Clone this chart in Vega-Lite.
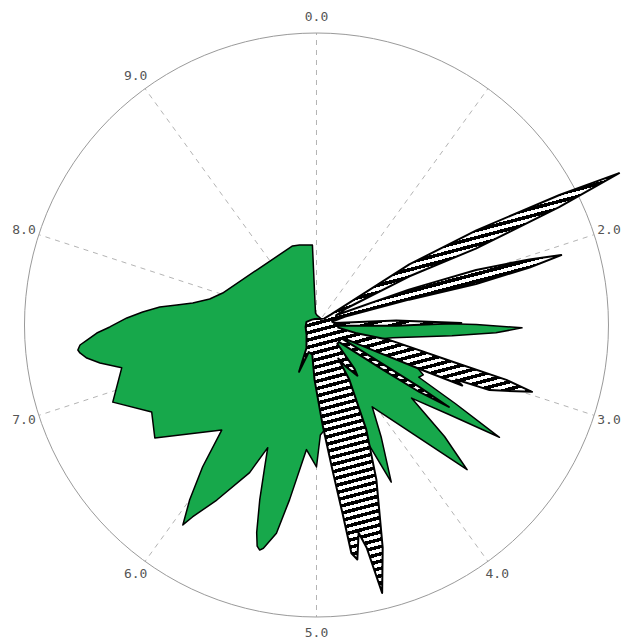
{
  "$schema": "https://vega.github.io/schema/vega-lite/v6.json",
  "width": 621,
  "height": 643,
  "autosize": {"type": "fit", "contains": "padding"},
  "padding": 0,
  "background": "white",
  "config": {"view": {"stroke": null}},
  "datasets": {
    "spokes": [
      {"a": 0, "r": 100}, {"a": 1, "r": 100}, {"a": 2, "r": 100}, {"a": 3, "r": 100}, {"a": 4, "r": 100},
      {"a": 5, "r": 100}, {"a": 6, "r": 100}, {"a": 7, "r": 100}, {"a": 8, "r": 100}, {"a": 9, "r": 100}
    ],
    "labels": [
      {"a": 0, "r": 105.5, "t": "0.0"}, {"a": 2, "r": 105.5, "t": "2.0"}, {"a": 3, "r": 105.5, "t": "3.0"},
      {"a": 4, "r": 105.5, "t": "4.0"}, {"a": 5, "r": 105.5, "t": "5.0"}, {"a": 6, "r": 105.5, "t": "6.0"},
      {"a": 7, "r": 105.5, "t": "7.0"}, {"a": 8, "r": 105.5, "t": "8.0"}, {"a": 9, "r": 105.5, "t": "9.0"}
    ],
    "green": [
      {"a": 0.056, "r": 3.4}, {"a": 1.111, "r": 2.7}, {"a": 1.778, "r": 3.4}, {"a": 1.958, "r": 15.4},
      {"a": 2.056, "r": 4.1}, {"a": 2.333, "r": 6.2}, {"a": 2.456, "r": 30.8}, {"a": 2.494, "r": 54.8},
      {"a": 2.522, "r": 70.5}, {"a": 2.569, "r": 61.6}, {"a": 2.625, "r": 46.6}, {"a": 2.764, "r": 26.4},
      {"a": 2.889, "r": 20.5}, {"a": 3.056, "r": 34.2}, {"a": 3.194, "r": 40.4}, {"a": 3.25, "r": 39.4},
      {"a": 3.319, "r": 54.8}, {"a": 3.375, "r": 73.6}, {"a": 3.444, "r": 54.8}, {"a": 3.542, "r": 41.1},
      {"a": 3.639, "r": 58.2}, {"a": 3.717, "r": 71.6}, {"a": 4.047, "r": 33.9}, {"a": 4.167, "r": 44.5},
      {"a": 4.292, "r": 59.6}, {"a": 4.361, "r": 41.1}, {"a": 4.583, "r": 30.8}, {"a": 4.944, "r": 37.7},
      {"a": 5.0, "r": 48.6}, {"a": 5.128, "r": 42.8}, {"a": 5.244, "r": 60.6}, {"a": 5.303, "r": 72.6},
      {"a": 5.372, "r": 78.6}, {"a": 5.394, "r": 79.5}, {"a": 5.418, "r": 78.4}, {"a": 5.447, "r": 74.0},
      {"a": 5.5, "r": 63.0}, {"a": 5.558, "r": 51.7},
      {"a": 5.603, "r": 45.2}, {"a": 5.678, "r": 55.5}, {"a": 5.825, "r": 69.0}, {"a": 5.914, "r": 78.3},
      {"a": 5.939, "r": 82.4}, {"a": 6.0, "r": 74.0}, {"a": 6.078, "r": 62.3}, {"a": 6.169, "r": 48.5},
      {"a": 6.531, "r": 67.6}, {"a": 6.728, "r": 63.9}, {"a": 6.925, "r": 74.7}, {"a": 7.156, "r": 68.4},
      {"a": 7.224, "r": 75.4}, {"a": 7.273, "r": 79.6}, {"a": 7.313, "r": 81.7}, {"a": 7.334, "r": 82.3},
      {"a": 7.366, "r": 81.4}, {"a": 7.396, "r": 78.9}, {"a": 7.442, "r": 75.4}, {"a": 7.485, "r": 70.9},
      {"a": 7.559, "r": 65.1}, {"a": 7.619, "r": 59.8}, {"a": 7.682, "r": 54.1}, {"a": 7.726, "r": 48.4},
      {"a": 7.779, "r": 43.1}, {"a": 7.879, "r": 37.7}, {"a": 8.022, "r": 34.0},
      {"a": 8.75, "r": 27.6}, {"a": 9.531, "r": 28.3}, {"a": 9.667, "r": 28.0}, {"a": 9.919, "r": 27.4},
      {"a": 9.867, "r": 4.1}
    ],
    "pattern": [
      {"a": 0, "r": 2.1}, {"a": 0.833, "r": 2.4}, {"a": 1.389, "r": 3.4}, {"a": 1.5, "r": 6.2},
      {"a": 1.581, "r": 38.0}, {"a": 1.65, "r": 63.7}, {"a": 1.719, "r": 94.5}, {"a": 1.761, "r": 116.1},
      {"a": 1.781, "r": 92.5}, {"a": 1.789, "r": 60.6}, {"a": 1.733, "r": 36.0}, {"a": 1.694, "r": 12.0},
      {"a": 1.764, "r": 7.5}, {"a": 1.919, "r": 33.9}, {"a": 1.972, "r": 57.9}, {"a": 2.025, "r": 76.4},
      {"a": 2.058, "r": 87.3}, {"a": 2.081, "r": 75.7}, {"a": 2.1, "r": 56.5}, {"a": 2.075, "r": 32.9},
      {"a": 2.042, "r": 10.3}, {"a": 2.167, "r": 5.5}, {"a": 2.333, "r": 6.2}, {"a": 2.411, "r": 27.4},
      {"a": 2.478, "r": 49.7}, {"a": 2.517, "r": 27.4}, {"a": 2.556, "r": 7.5}, {"a": 2.694, "r": 7.5},
      {"a": 2.819, "r": 13.7}, {"a": 2.822, "r": 25.7}, {"a": 2.922, "r": 49.7}, {"a": 2.947, "r": 67.8},
      {"a": 2.978, "r": 77.4}, {"a": 3.072, "r": 63.4}, {"a": 3.092, "r": 51.4}, {"a": 3.125, "r": 54.1},
      {"a": 3.139, "r": 39.4}, {"a": 3.167, "r": 20.9}, {"a": 3.222, "r": 10.3}, {"a": 3.278, "r": 9.6},
      {"a": 3.347, "r": 27.4}, {"a": 3.361, "r": 41.1}, {"a": 3.381, "r": 53.4}, {"a": 3.417, "r": 42.1},
      {"a": 3.444, "r": 27.4}, {"a": 3.528, "r": 9.6}, {"a": 3.667, "r": 9.6}, {"a": 3.861, "r": 19.9},
      {"a": 3.917, "r": 22.3}, {"a": 4.028, "r": 17.1}, {"a": 4.083, "r": 13.7}, {"a": 4.139, "r": 21.9},
      {"a": 4.292, "r": 39.7}, {"a": 4.411, "r": 56.8}, {"a": 4.539, "r": 79.5}, {"a": 4.617, "r": 94.5},
      {"a": 4.647, "r": 78.1}, {"a": 4.681, "r": 72.6}, {"a": 4.725, "r": 81.5}, {"a": 4.758, "r": 79.1},
      {"a": 4.781, "r": 65.1}, {"a": 4.825, "r": 50.0}, {"a": 4.903, "r": 34.2}, {"a": 5.056, "r": 18.8},
      {"a": 5.222, "r": 10.3}, {"a": 5.444, "r": 9.6}, {"a": 5.569, "r": 17.1}, {"a": 5.653, "r": 8.6},
      {"a": 6.25, "r": 4.8}, {"a": 7.222, "r": 3.8}, {"a": 7.972, "r": 3.6}, {"a": 8.889, "r": 2.4},
      {"a": 9.583, "r": 2.1}
    ]
  },
  "layer": [
    {
      "data": {"name": "spokes"},
      "transform": [
        {"calculate": "datum.r*sin(datum.a*PI/5)", "as": "ex"},
        {"calculate": "datum.r*cos(datum.a*PI/5)", "as": "ey"},
        {"calculate": "0", "as": "o"}
      ],
      "mark": {"type": "rule", "color": "#b4b4b4", "strokeDash": [5, 5], "strokeWidth": 1},
      "encoding": {
        "x": {"field": "o", "type": "quantitative", "scale": {"domain": [-108.56, 104.11], "nice": false, "zero": false}, "axis": null},
        "y": {"field": "o", "type": "quantitative", "scale": {"domain": [-108.9, 111.3], "nice": false, "zero": false}, "axis": null},
        "x2": {"field": "ex"},
        "y2": {"field": "ey"}
      }
    },
    {
      "data": {"values": [{"r": 100}]},
      "transform": [{"calculate": "0", "as": "o"}],
      "mark": {"type": "point", "shape": "circle", "size": 341056, "filled": false, "stroke": "#9a9a9a", "strokeWidth": 1, "opacity": 1},
      "encoding": {
        "x": {"field": "o", "type": "quantitative", "axis": null},
        "y": {"field": "o", "type": "quantitative", "axis": null}
      }
    },
    {
      "data": {"name": "green"},
      "transform": [
        {"window": [{"op": "row_number", "as": "i"}]},
        {"calculate": "datum.r*sin(datum.a*PI/5)", "as": "x"},
        {"calculate": "datum.r*cos(datum.a*PI/5)", "as": "y"}
      ],
      "mark": {"type": "line", "interpolate": "linear-closed", "fill": "#17a84b", "stroke": "#000000", "strokeWidth": 1.5, "strokeJoin": "round"},
      "encoding": {
        "x": {"field": "x", "type": "quantitative", "axis": null},
        "y": {"field": "y", "type": "quantitative", "axis": null},
        "order": {"field": "i", "type": "quantitative"}
      }
    },
    {
      "data": {"name": "pattern"},
      "transform": [
        {"window": [{"op": "row_number", "as": "i"}]},
        {"calculate": "datum.r*sin(datum.a*PI/5)", "as": "x"},
        {"calculate": "datum.r*cos(datum.a*PI/5)", "as": "y"}
      ],
      "mark": {
        "type": "line",
        "interpolate": "linear-closed",
        "stroke": "#000000",
        "strokeWidth": 2,
        "strokeJoin": "round",
        "fill": {
          "gradient": "linear", "x1": 0, "y1": 0, "x2": 0.2, "y2": 1,
          "stops": [
            {"offset": 0, "color": "#000"}, {"offset": 0.0083, "color": "#000"}, {"offset": 0.0083, "color": "#fff"}, {"offset": 0.0167, "color": "#fff"},
            {"offset": 0.0167, "color": "#000"}, {"offset": 0.025, "color": "#000"}, {"offset": 0.025, "color": "#fff"}, {"offset": 0.0333, "color": "#fff"},
            {"offset": 0.0333, "color": "#000"}, {"offset": 0.0417, "color": "#000"}, {"offset": 0.0417, "color": "#fff"}, {"offset": 0.05, "color": "#fff"},
            {"offset": 0.05, "color": "#000"}, {"offset": 0.0583, "color": "#000"}, {"offset": 0.0583, "color": "#fff"}, {"offset": 0.0667, "color": "#fff"},
            {"offset": 0.0667, "color": "#000"}, {"offset": 0.075, "color": "#000"}, {"offset": 0.075, "color": "#fff"}, {"offset": 0.0833, "color": "#fff"},
            {"offset": 0.0833, "color": "#000"}, {"offset": 0.0917, "color": "#000"}, {"offset": 0.0917, "color": "#fff"}, {"offset": 0.1, "color": "#fff"},
            {"offset": 0.1, "color": "#000"}, {"offset": 0.1083, "color": "#000"}, {"offset": 0.1083, "color": "#fff"}, {"offset": 0.1167, "color": "#fff"},
            {"offset": 0.1167, "color": "#000"}, {"offset": 0.125, "color": "#000"}, {"offset": 0.125, "color": "#fff"}, {"offset": 0.1333, "color": "#fff"},
            {"offset": 0.1333, "color": "#000"}, {"offset": 0.1417, "color": "#000"}, {"offset": 0.1417, "color": "#fff"}, {"offset": 0.15, "color": "#fff"},
            {"offset": 0.15, "color": "#000"}, {"offset": 0.1583, "color": "#000"}, {"offset": 0.1583, "color": "#fff"}, {"offset": 0.1667, "color": "#fff"},
            {"offset": 0.1667, "color": "#000"}, {"offset": 0.175, "color": "#000"}, {"offset": 0.175, "color": "#fff"}, {"offset": 0.1833, "color": "#fff"},
            {"offset": 0.1833, "color": "#000"}, {"offset": 0.1917, "color": "#000"}, {"offset": 0.1917, "color": "#fff"}, {"offset": 0.2, "color": "#fff"},
            {"offset": 0.2, "color": "#000"}, {"offset": 0.2083, "color": "#000"}, {"offset": 0.2083, "color": "#fff"}, {"offset": 0.2167, "color": "#fff"},
            {"offset": 0.2167, "color": "#000"}, {"offset": 0.225, "color": "#000"}, {"offset": 0.225, "color": "#fff"}, {"offset": 0.2333, "color": "#fff"},
            {"offset": 0.2333, "color": "#000"}, {"offset": 0.2417, "color": "#000"}, {"offset": 0.2417, "color": "#fff"}, {"offset": 0.25, "color": "#fff"},
            {"offset": 0.25, "color": "#000"}, {"offset": 0.2583, "color": "#000"}, {"offset": 0.2583, "color": "#fff"}, {"offset": 0.2667, "color": "#fff"},
            {"offset": 0.2667, "color": "#000"}, {"offset": 0.275, "color": "#000"}, {"offset": 0.275, "color": "#fff"}, {"offset": 0.2833, "color": "#fff"},
            {"offset": 0.2833, "color": "#000"}, {"offset": 0.2917, "color": "#000"}, {"offset": 0.2917, "color": "#fff"}, {"offset": 0.3, "color": "#fff"},
            {"offset": 0.3, "color": "#000"}, {"offset": 0.3083, "color": "#000"}, {"offset": 0.3083, "color": "#fff"}, {"offset": 0.3167, "color": "#fff"},
            {"offset": 0.3167, "color": "#000"}, {"offset": 0.325, "color": "#000"}, {"offset": 0.325, "color": "#fff"}, {"offset": 0.3333, "color": "#fff"},
            {"offset": 0.3333, "color": "#000"}, {"offset": 0.3417, "color": "#000"}, {"offset": 0.3417, "color": "#fff"}, {"offset": 0.35, "color": "#fff"},
            {"offset": 0.35, "color": "#000"}, {"offset": 0.3583, "color": "#000"}, {"offset": 0.3583, "color": "#fff"}, {"offset": 0.3667, "color": "#fff"},
            {"offset": 0.3667, "color": "#000"}, {"offset": 0.375, "color": "#000"}, {"offset": 0.375, "color": "#fff"}, {"offset": 0.3833, "color": "#fff"},
            {"offset": 0.3833, "color": "#000"}, {"offset": 0.3917, "color": "#000"}, {"offset": 0.3917, "color": "#fff"}, {"offset": 0.4, "color": "#fff"},
            {"offset": 0.4, "color": "#000"}, {"offset": 0.4083, "color": "#000"}, {"offset": 0.4083, "color": "#fff"}, {"offset": 0.4167, "color": "#fff"},
            {"offset": 0.4167, "color": "#000"}, {"offset": 0.425, "color": "#000"}, {"offset": 0.425, "color": "#fff"}, {"offset": 0.4333, "color": "#fff"},
            {"offset": 0.4333, "color": "#000"}, {"offset": 0.4417, "color": "#000"}, {"offset": 0.4417, "color": "#fff"}, {"offset": 0.45, "color": "#fff"},
            {"offset": 0.45, "color": "#000"}, {"offset": 0.4583, "color": "#000"}, {"offset": 0.4583, "color": "#fff"}, {"offset": 0.4667, "color": "#fff"},
            {"offset": 0.4667, "color": "#000"}, {"offset": 0.475, "color": "#000"}, {"offset": 0.475, "color": "#fff"}, {"offset": 0.4833, "color": "#fff"},
            {"offset": 0.4833, "color": "#000"}, {"offset": 0.4917, "color": "#000"}, {"offset": 0.4917, "color": "#fff"}, {"offset": 0.5, "color": "#fff"},
            {"offset": 0.5, "color": "#000"}, {"offset": 0.5083, "color": "#000"}, {"offset": 0.5083, "color": "#fff"}, {"offset": 0.5167, "color": "#fff"},
            {"offset": 0.5167, "color": "#000"}, {"offset": 0.525, "color": "#000"}, {"offset": 0.525, "color": "#fff"}, {"offset": 0.5333, "color": "#fff"},
            {"offset": 0.5333, "color": "#000"}, {"offset": 0.5417, "color": "#000"}, {"offset": 0.5417, "color": "#fff"}, {"offset": 0.55, "color": "#fff"},
            {"offset": 0.55, "color": "#000"}, {"offset": 0.5583, "color": "#000"}, {"offset": 0.5583, "color": "#fff"}, {"offset": 0.5667, "color": "#fff"},
            {"offset": 0.5667, "color": "#000"}, {"offset": 0.575, "color": "#000"}, {"offset": 0.575, "color": "#fff"}, {"offset": 0.5833, "color": "#fff"},
            {"offset": 0.5833, "color": "#000"}, {"offset": 0.5917, "color": "#000"}, {"offset": 0.5917, "color": "#fff"}, {"offset": 0.6, "color": "#fff"},
            {"offset": 0.6, "color": "#000"}, {"offset": 0.6083, "color": "#000"}, {"offset": 0.6083, "color": "#fff"}, {"offset": 0.6167, "color": "#fff"},
            {"offset": 0.6167, "color": "#000"}, {"offset": 0.625, "color": "#000"}, {"offset": 0.625, "color": "#fff"}, {"offset": 0.6333, "color": "#fff"},
            {"offset": 0.6333, "color": "#000"}, {"offset": 0.6417, "color": "#000"}, {"offset": 0.6417, "color": "#fff"}, {"offset": 0.65, "color": "#fff"},
            {"offset": 0.65, "color": "#000"}, {"offset": 0.6583, "color": "#000"}, {"offset": 0.6583, "color": "#fff"}, {"offset": 0.6667, "color": "#fff"},
            {"offset": 0.6667, "color": "#000"}, {"offset": 0.675, "color": "#000"}, {"offset": 0.675, "color": "#fff"}, {"offset": 0.6833, "color": "#fff"},
            {"offset": 0.6833, "color": "#000"}, {"offset": 0.6917, "color": "#000"}, {"offset": 0.6917, "color": "#fff"}, {"offset": 0.7, "color": "#fff"},
            {"offset": 0.7, "color": "#000"}, {"offset": 0.7083, "color": "#000"}, {"offset": 0.7083, "color": "#fff"}, {"offset": 0.7167, "color": "#fff"},
            {"offset": 0.7167, "color": "#000"}, {"offset": 0.725, "color": "#000"}, {"offset": 0.725, "color": "#fff"}, {"offset": 0.7333, "color": "#fff"},
            {"offset": 0.7333, "color": "#000"}, {"offset": 0.7417, "color": "#000"}, {"offset": 0.7417, "color": "#fff"}, {"offset": 0.75, "color": "#fff"},
            {"offset": 0.75, "color": "#000"}, {"offset": 0.7583, "color": "#000"}, {"offset": 0.7583, "color": "#fff"}, {"offset": 0.7667, "color": "#fff"},
            {"offset": 0.7667, "color": "#000"}, {"offset": 0.775, "color": "#000"}, {"offset": 0.775, "color": "#fff"}, {"offset": 0.7833, "color": "#fff"},
            {"offset": 0.7833, "color": "#000"}, {"offset": 0.7917, "color": "#000"}, {"offset": 0.7917, "color": "#fff"}, {"offset": 0.8, "color": "#fff"},
            {"offset": 0.8, "color": "#000"}, {"offset": 0.8083, "color": "#000"}, {"offset": 0.8083, "color": "#fff"}, {"offset": 0.8167, "color": "#fff"},
            {"offset": 0.8167, "color": "#000"}, {"offset": 0.825, "color": "#000"}, {"offset": 0.825, "color": "#fff"}, {"offset": 0.8333, "color": "#fff"},
            {"offset": 0.8333, "color": "#000"}, {"offset": 0.8417, "color": "#000"}, {"offset": 0.8417, "color": "#fff"}, {"offset": 0.85, "color": "#fff"},
            {"offset": 0.85, "color": "#000"}, {"offset": 0.8583, "color": "#000"}, {"offset": 0.8583, "color": "#fff"}, {"offset": 0.8667, "color": "#fff"},
            {"offset": 0.8667, "color": "#000"}, {"offset": 0.875, "color": "#000"}, {"offset": 0.875, "color": "#fff"}, {"offset": 0.8833, "color": "#fff"},
            {"offset": 0.8833, "color": "#000"}, {"offset": 0.8917, "color": "#000"}, {"offset": 0.8917, "color": "#fff"}, {"offset": 0.9, "color": "#fff"},
            {"offset": 0.9, "color": "#000"}, {"offset": 0.9083, "color": "#000"}, {"offset": 0.9083, "color": "#fff"}, {"offset": 0.9167, "color": "#fff"},
            {"offset": 0.9167, "color": "#000"}, {"offset": 0.925, "color": "#000"}, {"offset": 0.925, "color": "#fff"}, {"offset": 0.9333, "color": "#fff"},
            {"offset": 0.9333, "color": "#000"}, {"offset": 0.9417, "color": "#000"}, {"offset": 0.9417, "color": "#fff"}, {"offset": 0.95, "color": "#fff"},
            {"offset": 0.95, "color": "#000"}, {"offset": 0.9583, "color": "#000"}, {"offset": 0.9583, "color": "#fff"}, {"offset": 0.9667, "color": "#fff"},
            {"offset": 0.9667, "color": "#000"}, {"offset": 0.975, "color": "#000"}, {"offset": 0.975, "color": "#fff"}, {"offset": 0.9833, "color": "#fff"},
            {"offset": 0.9833, "color": "#000"}, {"offset": 0.9917, "color": "#000"}, {"offset": 0.9917, "color": "#fff"}, {"offset": 1, "color": "#fff"}
          ]
        }
      },
      "encoding": {
        "x": {"field": "x", "type": "quantitative", "axis": null},
        "y": {"field": "y", "type": "quantitative", "axis": null},
        "order": {"field": "i", "type": "quantitative"}
      }
    },
    {
      "data": {"name": "labels"},
      "transform": [
        {"calculate": "datum.r*sin(datum.a*PI/5)", "as": "x"},
        {"calculate": "datum.r*cos(datum.a*PI/5)", "as": "y"}
      ],
      "mark": {"type": "text", "font": "DejaVu Sans Mono", "fontSize": 13, "color": "#555555", "align": "center", "baseline": "middle"},
      "encoding": {
        "x": {"field": "x", "type": "quantitative", "axis": null},
        "y": {"field": "y", "type": "quantitative", "axis": null},
        "text": {"field": "t"}
      }
    }
  ]
}
